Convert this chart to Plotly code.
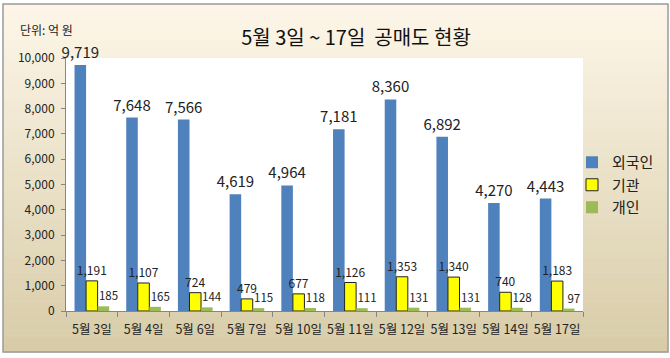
import plotly.graph_objects as go

categories = ["5월 3일", "5월 4일", "5월 6일", "5월 7일", "5월 10일",
              "5월 11일", "5월 12일", "5월 13일", "5월 14일", "5월 17일"]
foreign = [9719, 7648, 7566, 4619, 4964, 7181, 8360, 6892, 4270, 4443]
institution = [1191, 1107, 724, 479, 677, 1126, 1353, 1340, 740, 1183]
individual = [185, 165, 144, 115, 118, 111, 131, 131, 128, 97]
series_names = ["외국인", "기관", "개인"]

FONT = "Noto Sans CJK KR"
W, H = 670, 358
L, R, T, B = 66, 583, 58, 311


def px(x):
    return (x - L) / (R - L)


def py(y):
    return (B - y) / (B - T)


def fmt(v):
    return f"{v:,}"


fig = go.Figure()
fig.add_trace(go.Bar(
    x=categories, y=foreign, name=series_names[0],
    marker=dict(color="#4F81BD", line=dict(width=0)),
    text=[fmt(v) for v in foreign], textposition="outside",
    textfont=dict(size=15, color="#222222", family=FONT),
    cliponaxis=False, constraintext="none",
))
fig.add_trace(go.Bar(
    x=categories, y=institution, name=series_names[1],
    marker=dict(color="#FFFF00", line=dict(width=1, color="#222222")),
    text=[fmt(v) for v in institution], textposition="outside",
    textfont=dict(size=12, color="#222222", family=FONT),
    cliponaxis=False, constraintext="none",
))
fig.add_trace(go.Bar(
    x=categories, y=individual, name=series_names[2],
    marker=dict(color="#9BBB59", line=dict(width=0)),
    text=[fmt(v) for v in individual], textposition="outside",
    texttemplate="\u00a0\u00a0\u00a0\u00a0%{text}",
    textfont=dict(size=11.5, color="#222222", family=FONT),
    cliponaxis=False, constraintext="none",
))

# background gradient bands + border + white plot area
shapes = []
top_c = (253, 246, 232)
bot_c = (216, 204, 168)
y0, y1 = 4, 352
n = 48
for i in range(n):
    a = y0 + (y1 - y0) * i / n
    b = y0 + (y1 - y0) * (i + 1) / n + 0.6
    t = i / (n - 1)
    c = tuple(round(top_c[k] + (bot_c[k] - top_c[k]) * t) for k in range(3))
    shapes.append(dict(type="rect", xref="paper", yref="paper",
                       x0=px(3), x1=px(668), y0=py(b), y1=py(a),
                       fillcolor=f"rgb{c}", line=dict(width=0), layer="below"))
shapes.append(dict(type="rect", xref="paper", yref="paper",
                   x0=px(3), x1=px(668), y0=py(352), y1=py(4),
                   fillcolor="rgba(0,0,0,0)", line=dict(width=1.5, color="#9A9A9A"),
                   layer="below"))
shapes.append(dict(type="rect", xref="paper", yref="paper",
                   x0=0, x1=1, y0=0, y1=1,
                   fillcolor="white", line=dict(width=0), layer="below"))

fig.update_layout(
    width=W, height=H,
    margin=dict(l=L, r=W - R, t=T, b=H - B, pad=0, autoexpand=False),
    paper_bgcolor="white", plot_bgcolor="white",
    font=dict(family=FONT, color="#222222"),
    barmode="group", bargap=0.33, bargroupgap=0,
    title=dict(text="5월 3일 ~ 17일  공매도 현황", x=356 / W, xanchor="center",
               y=1 - 38 / H, yanchor="middle",
               font=dict(size=20, family=FONT, color="#111111")),
    legend=dict(x=px(572), y=py(146), xanchor="left", yanchor="top",
                font=dict(size=15, family=FONT, color="#222222"),
                bgcolor="rgba(0,0,0,0)", itemwidth=30, tracegroupgap=2),
    shapes=shapes,
    annotations=[dict(text="단위: 억 원", xref="paper", yref="paper",
                      x=px(18), y=py(30), xanchor="left", yanchor="middle",
                      showarrow=False, font=dict(size=12, family=FONT, color="#222222"))],
    showlegend=True,
)
fig.update_xaxes(
    showline=True, linecolor="#868686", linewidth=1,
    ticks="outside", tickson="boundaries", ticklen=5, tickcolor="#868686",
    tickfont=dict(size=12.5, family=FONT, color="#222222"),
    tickangle=0, automargin=False,
    showgrid=False, ticklabelstandoff=7,
)
fig.update_yaxes(
    range=[0, 10000], dtick=1000, tickformat=",",
    showline=True, linecolor="#868686", linewidth=1,
    ticks="outside", ticklen=4, tickcolor="#868686",
    tickfont=dict(size=12, family=FONT, color="#222222"),
    showgrid=False, zeroline=False, automargin=False, ticklabelstandoff=4,
)

fig.write_html("out.html",
               config={"displayModeBar": False},
               post_script="document.body.style.margin='0';document.body.style.padding='0';")
